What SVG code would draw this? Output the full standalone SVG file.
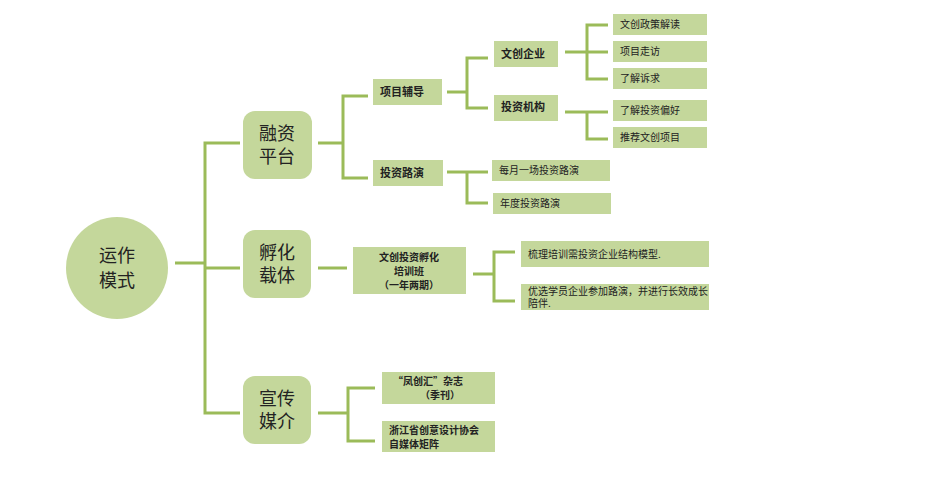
<svg xmlns="http://www.w3.org/2000/svg" width="941" height="484" viewBox="0 0 941 484">
<style>
.c{fill:#c4d79b}
.b{fill:#c4d79b}
.l{fill:none;stroke:#9bbb59;stroke-width:3}
text{font-family:"Noto Sans CJK SC","Liberation Sans",sans-serif;fill:#222}
.big{font-size:18px;text-anchor:middle}
.m{font-size:11px;font-weight:bold}
.t{font-size:10px;font-weight:bold}
.s{font-size:10px}
.u{font-size:10px;font-weight:bold}
</style>
<rect width="941" height="484" fill="#fff"/>
<g id="connectors" class="l">
<path d="M175 263H205M240 143H205V413H240M205 268H240"/>
<path d="M318 143H343M368 96H343V178H368"/>
<path d="M447 92H467M488 58H467V108H488"/>
<path d="M565 52H608M608 25H587V79H608"/>
<path d="M565 112H608M587 112V139H608"/>
<path d="M447 172H488M467 172V203H488"/>
<path d="M318 268H347"/>
<path d="M473 274H494M515 252H494V301H515"/>
<path d="M318 413H348M375 388H348V441H375"/>
</g>
<g id="root"><circle class="c" cx="117" cy="268" r="51"/><text class="big" x="117" y="262">运作</text><text class="big" x="117" y="287">模式</text></g>
<g id="n1"><rect class="b" x="243" y="111" width="69" height="68" rx="12"/><text class="big" x="277" y="140">融资</text><text class="big" x="277" y="163">平台</text></g>
<g id="n2"><rect class="b" x="243" y="230" width="68" height="68" rx="12"/><text class="big" x="277" y="259">孵化</text><text class="big" x="277" y="282">载体</text></g>
<g id="n3"><rect class="b" x="243" y="376" width="68" height="68" rx="12"/><text class="big" x="277" y="405">宣传</text><text class="big" x="277" y="428">媒介</text></g>
<g id="xmfd"><rect class="b" x="373" y="79" width="69" height="26"/><text class="m" x="380" y="96">项目辅导</text></g>
<g id="tzly"><rect class="b" x="373" y="160" width="70" height="26"/><text class="m" x="380" y="177">投资路演</text></g>
<g id="wcqy"><rect class="b" x="494" y="41" width="64" height="26"/><text class="m" x="501" y="58">文创企业</text></g>
<g id="tzjg"><rect class="b" x="494" y="95" width="64" height="26"/><text class="m" x="501" y="111">投资机构</text></g>
<g id="l1"><rect class="b" x="613" y="14" width="94" height="21"/><text class="s" x="620" y="28">文创政策解读</text></g>
<g id="l2"><rect class="b" x="613" y="41" width="94" height="21"/><text class="s" x="620" y="55">项目走访</text></g>
<g id="l3"><rect class="b" x="613" y="68" width="94" height="21"/><text class="s" x="620" y="82">了解诉求</text></g>
<g id="l4"><rect class="b" x="613" y="100" width="94" height="21"/><text class="s" x="620" y="114">了解投资偏好</text></g>
<g id="l5"><rect class="b" x="613" y="127" width="94" height="21"/><text class="s" x="620" y="141">推荐文创项目</text></g>
<g id="l6"><rect class="b" x="492" y="160" width="118" height="21"/><text class="s" x="499" y="174">每月一场投资路演</text></g>
<g id="l7"><rect class="b" x="493" y="193" width="118" height="21"/><text class="s" x="500" y="207">年度投资路演</text></g>
<g id="pxb"><rect class="b" x="353" y="247" width="113" height="47"/><text class="t" x="409" y="261" text-anchor="middle">文创投资孵化</text><text class="t" x="409" y="275" text-anchor="middle">培训班</text><text class="t" x="409" y="289" text-anchor="middle">（一年两期）</text></g>
<g id="p1"><rect class="b" x="521" y="241" width="188" height="26"/><text class="s" x="528" y="258">梳理培训需投资企业结构模型.</text></g>
<g id="p2"><rect class="b" x="521" y="284" width="188" height="26"/><text class="s" x="528" y="295" font-size="9">优选学员企业参加路演，并进行长效成长</text><text class="s" x="528" y="307" font-size="9">陪伴.</text></g>
<g id="m1"><rect class="b" x="382" y="372" width="113" height="32"/><text class="u" x="393" y="385">“凤创汇”杂志</text><text class="u" x="420" y="399">（季刊）</text></g>
<g id="m2"><rect class="b" x="382" y="421" width="113" height="31"/><text class="u" x="389" y="434">浙江省创意设计协会</text><text class="u" x="389" y="448">自媒体矩阵</text></g>
</svg>
